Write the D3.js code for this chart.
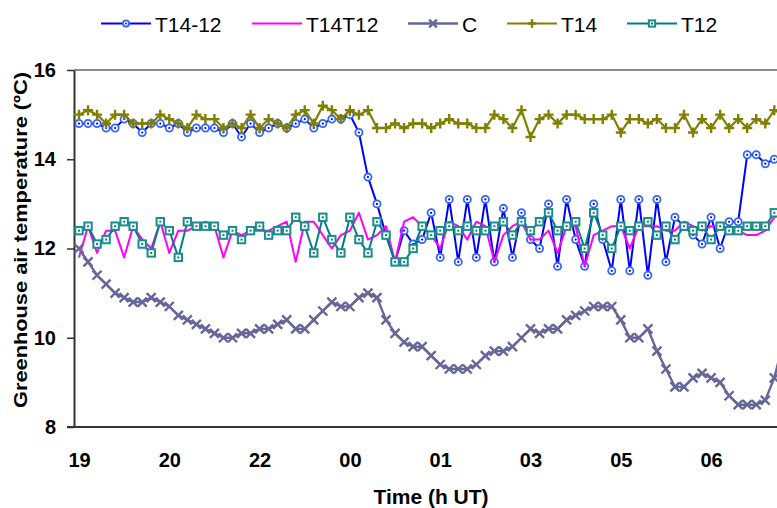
<!DOCTYPE html>
<html lang="en">
<head>
    <meta charset="UTF-8">
    <script src="https://d3js.org/d3.v7.min.js" charset="utf-8"></script>
    <title>Greenhouse air temperature</title>
    <style>
        body { margin: 0; background: white; }
        svg { display: block; font-family: Arial, "Liberation Sans", sans-serif; }
    </style>
</head>
<body>
<div class="chart"></div>
<script>
    const width = 777;
    const height = 508;

    // time labels, one every 10 readings
    const timeLabels = ["19", "20", "22", "00", "01", "03", "05", "06"];
    const yTicks = [8, 10, 12, 14, 16];

    const t1412 = [14.8, 14.8, 14.8, 14.7, 14.7, 14.9, 14.8, 14.6, 14.8, 14.8,
        14.7, 14.8, 14.6, 14.7, 14.7, 14.7, 14.6, 14.8, 14.5, 14.8,
        14.6, 14.7, 14.8, 14.7, 14.8, 14.9, 14.7, 14.8, 14.9, 14.9,
        15.0, 14.6, 13.6, 13.0, 12.3, 11.7, 12.4, 12.1, 12.2, 12.8,
        11.8, 13.1, 11.7, 13.1, 11.8, 13.1, 11.7, 12.9, 11.8, 12.8,
        12.2, 12.0, 13.0, 11.6, 13.1, 12.2, 11.6, 13.0, 12.2, 11.5,
        13.1, 11.5, 13.1, 11.4, 13.1, 11.7, 12.7, 12.5, 12.3, 12.1,
        12.7, 12.0, 12.6, 12.6, 14.1, 14.1, 13.9, 14.0, 14.0];

    const t14t12 = [11.8, 12.5, 11.9, 12.4, 12.4, 11.8, 12.5, 12.2, 12.0, 12.6,
        11.9, 12.4, 12.4, 12.5, 12.6, 12.5, 11.8, 12.4, 12.3, 12.4,
        12.4, 12.4, 12.5, 12.6, 11.7, 12.6, 12.6, 12.3, 12.0, 12.3,
        12.4, 12.8, 12.2, 12.3, 12.5, 11.7, 12.6, 12.7, 12.5, 12.3,
        12.0, 12.6, 12.5, 12.2, 12.6, 12.5, 11.7, 12.3, 12.5, 12.6,
        12.2, 12.2, 12.4, 11.9, 12.5, 12.5, 11.6, 12.3, 12.4, 12.5,
        12.5, 12.0, 12.5, 12.5, 12.5, 12.4, 12.4, 12.6, 12.5, 12.4,
        12.5, 12.5, 12.4, 12.4, 12.3, 12.3, 12.4, 12.7, 12.8];

    const cTemp = [12.0, 11.7, 11.4, 11.2, 11.0, 10.9, 10.8, 10.8, 10.9, 10.8,
        10.7, 10.5, 10.4, 10.3, 10.2, 10.1, 10.0, 10.0, 10.1, 10.1,
        10.2, 10.2, 10.3, 10.4, 10.2, 10.2, 10.4, 10.6, 10.8, 10.7,
        10.7, 10.9, 11.0, 10.9, 10.4, 10.1, 9.9, 9.8, 9.8, 9.6,
        9.4, 9.3, 9.3, 9.3, 9.4, 9.6, 9.7, 9.7, 9.8, 10.0,
        10.2, 10.1, 10.2, 10.2, 10.4, 10.5, 10.6, 10.7, 10.7, 10.7,
        10.4, 10.0, 10.0, 10.2, 9.7, 9.3, 8.9, 8.9, 9.1, 9.2,
        9.1, 9.0, 8.7, 8.5, 8.5, 8.5, 8.6, 9.1, 9.9];

    const t14 = [15.0, 15.1, 15.0, 14.8, 15.0, 15.0, 14.8, 14.8, 14.8, 15.0,
        14.9, 14.8, 14.7, 15.0, 14.9, 14.9, 14.7, 14.8, 14.7, 15.0,
        14.7, 14.9, 14.8, 14.7, 15.0, 15.1, 14.8, 15.2, 15.1, 14.9,
        15.1, 15.0, 15.1, 14.7, 14.7, 14.8, 14.7, 14.8, 14.8, 14.7,
        14.8, 14.9, 14.8, 14.8, 14.7, 14.7, 15.0, 14.9, 14.7, 15.1,
        14.5, 14.9, 15.0, 14.8, 15.0, 15.0, 14.9, 14.9, 14.9, 15.0,
        14.6, 14.9, 14.9, 14.8, 14.9, 14.7, 14.7, 15.0, 14.6, 14.9,
        14.7, 15.0, 14.7, 14.9, 14.7, 14.9, 14.8, 15.1, 15.0];

    const t12 = [12.4, 12.5, 12.1, 12.2, 12.5, 12.6, 12.5, 12.1, 11.9, 12.6,
        12.4, 11.8, 12.6, 12.5, 12.5, 12.5, 12.3, 12.4, 12.2, 12.4,
        12.5, 12.3, 12.4, 12.4, 12.7, 12.5, 11.9, 12.7, 12.2, 11.9,
        12.7, 12.2, 11.9, 12.6, 12.3, 11.7, 11.7, 12.0, 12.5, 12.3,
        12.4, 12.5, 12.4, 12.5, 12.4, 12.4, 12.5, 12.6, 12.3, 12.6,
        12.4, 12.6, 12.8, 12.4, 12.5, 12.6, 12.0, 12.8, 12.3, 12.0,
        12.5, 12.4, 12.5, 12.6, 12.3, 12.5, 12.2, 12.5, 12.4, 12.5,
        12.2, 12.5, 12.4, 12.4, 12.5, 12.5, 12.5, 12.8, 12.8];

    const series = [
        {name: "T14-12", values: t1412, color: "#0000ff", marker: "circle", markColor: "#3366ff", lw: 2},
        {name: "T14T12", values: t14t12, color: "#ff00ff", marker: null, lw: 2},
        {name: "C", values: cTemp, color: "#666699", marker: "x", markColor: "#666699", lw: 2.4},
        {name: "T14", values: t14, color: "#808000", marker: "plus", markColor: "#808000", lw: 2.2},
        {name: "T12", values: t12, color: "#008080", marker: "square", markColor: "#1a8c8c", lw: 2}
    ];

    const svg = d3.select(".chart").append("svg")
        .attr("width", width)
        .attr("height", height);

    const x = d3.scaleLinear().domain([0, 77]).range([79, 774.3]);
    const y = d3.scaleLinear().domain([8, 16]).range([427, 70]);

    // plot frame
    svg.append("line")
        .attr("x1", 74).attr("x2", width)
        .attr("y1", y(16)).attr("y2", y(16))
        .attr("stroke", "#8c8c8c").attr("stroke-width", 2);

    const yAxis = svg.append("g")
        .attr("transform", "translate(74,0)")
        .call(d3.axisLeft(y).tickValues(yTicks).tickSize(7).tickSizeOuter(0).tickPadding(11));
    yAxis.select(".domain").attr("stroke", "#333").attr("stroke-width", 2);
    yAxis.selectAll(".tick line").attr("stroke", "#333").attr("stroke-width", 1.5);
    yAxis.selectAll("text")
        .attr("font-size", "20px").attr("font-weight", "bold").attr("fill", "#000")
        .attr("font-family", "Arial, 'Liberation Sans', sans-serif");

    const xAxis = svg.append("g")
        .attr("transform", `translate(0,${y(8)})`)
        .call(d3.axisBottom(x)
            .tickValues(timeLabels.map((d, i) => i * 10))
            .tickFormat(v => timeLabels[v / 10])
            .tickSize(0).tickPadding(26));
    xAxis.select(".domain").remove();
    xAxis.selectAll("text")
        .attr("font-size", "20px").attr("font-weight", "bold").attr("fill", "#000")
        .attr("font-family", "Arial, 'Liberation Sans', sans-serif");

    svg.append("line")
        .attr("x1", 67).attr("x2", width)
        .attr("y1", y(8)).attr("y2", y(8))
        .attr("stroke", "#333").attr("stroke-width", 2);

    // axis titles
    svg.append("text")
        .attr("x", 431).attr("y", 504)
        .attr("text-anchor", "middle")
        .attr("font-size", "21px").attr("font-weight", "bold")
        .text("Time (h UT)");

    svg.append("text")
        .attr("transform", "translate(27,240) rotate(-90)")
        .attr("text-anchor", "middle")
        .attr("font-size", "19px").attr("font-weight", "bold")
        .attr("textLength", 336).attr("lengthAdjust", "spacingAndGlyphs")
        .text("Greenhouse air temperature (ºC)");

    const drawMarker = (g, type, color, cx, cy, s) => {
        if (type === "circle") {
            g.append("circle").attr("cx", cx).attr("cy", cy).attr("r", 3.6 * s)
                .attr("fill", "white").attr("stroke", color).attr("stroke-width", 1.8);
            g.append("circle").attr("cx", cx).attr("cy", cy).attr("r", 1.1 * s).attr("fill", "#0000cc");
        } else if (type === "x") {
            const r = 4.5 * s;
            g.append("path")
                .attr("d", `M${cx - r},${cy - r}L${cx + r},${cy + r}M${cx - r},${cy + r}L${cx + r},${cy - r}`)
                .attr("stroke", color).attr("stroke-width", 2.4).attr("fill", "none");
        } else if (type === "plus") {
            const r = 5 * s;
            g.append("path")
                .attr("d", `M${cx - r},${cy}L${cx + r},${cy}M${cx},${cy - r}L${cx},${cy + r}`)
                .attr("stroke", color).attr("stroke-width", 2.4).attr("fill", "none");
        } else if (type === "square") {
            const r = 3.7 * s;
            g.append("rect").attr("x", cx - r).attr("y", cy - r)
                .attr("width", 2 * r).attr("height", 2 * r)
                .attr("fill", "white").attr("stroke", color).attr("stroke-width", 2);
            g.append("rect").attr("x", cx - 1).attr("y", cy - 1)
                .attr("width", 2).attr("height", 2).attr("fill", "#008080");
        }
    };

    const line = d3.line().x((d, i) => x(i)).y(d => y(d));

    series.forEach(s => {
        const g = svg.append("g");
        g.append("path")
            .datum(s.values)
            .attr("d", line)
            .attr("fill", "none")
            .attr("stroke", s.color)
            .attr("stroke-width", s.lw)
            .attr("stroke-linejoin", "round");
        if (s.marker) {
            s.values.forEach((v, i) => drawMarker(g, s.marker, s.markColor, x(i), y(v), 1));
        }
    });

    // legend
    const legendX = [101, 252, 408, 507, 627];
    const legendY = 23.5;
    series.forEach((s, k) => {
        const g = svg.append("g");
        const x0 = legendX[k];
        g.append("line")
            .attr("x1", x0).attr("x2", x0 + 50)
            .attr("y1", legendY).attr("y2", legendY)
            .attr("stroke", s.color).attr("stroke-width", s.lw);
        if (s.marker) drawMarker(g, s.marker, s.markColor, x0 + 25, legendY, 0.85);
        g.append("text")
            .attr("x", x0 + 54).attr("y", legendY + 8)
            .attr("font-size", "21px")
            .text(s.name);
    });
</script>
</body>
</html>
